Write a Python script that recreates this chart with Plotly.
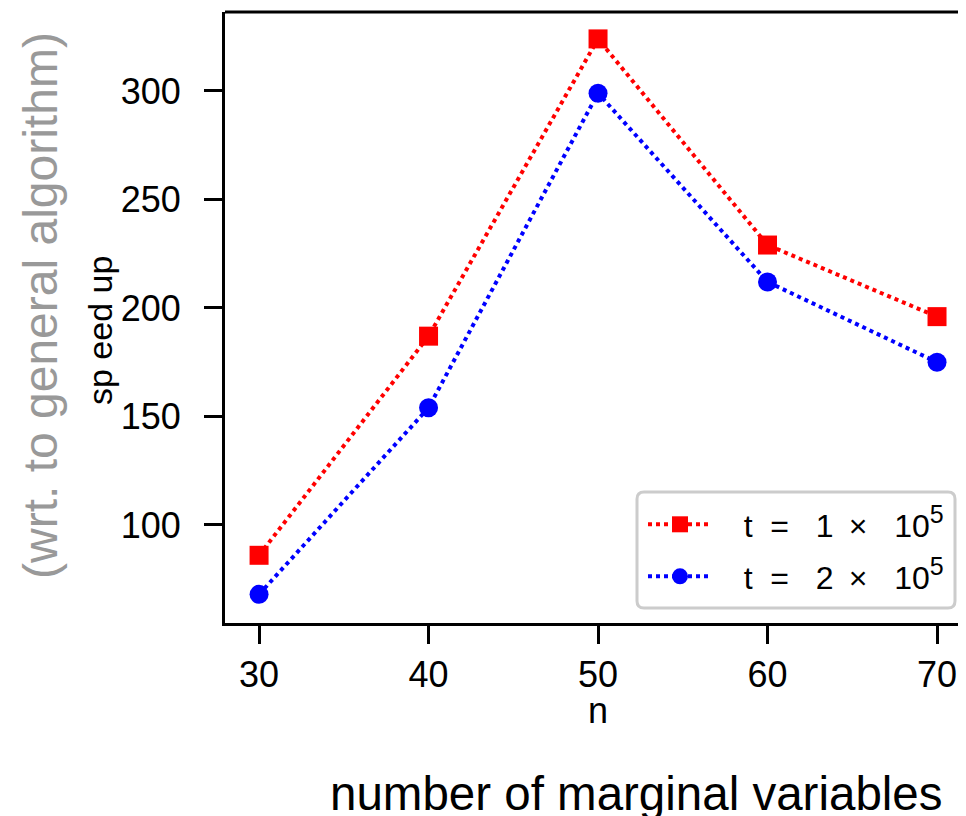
import plotly.graph_objects as go

n_values = [30, 40, 50, 60, 70]
speedup_t1 = [86, 187, 324, 229, 196]
speedup_t2 = [68, 154, 299, 212, 175]
NB = "\u00a0"
TH = "\u2009"
SUP = "<sup><span style='font-size:25px'>5</span></sup>"
series_names = [
    f"{NB*3}t{NB*2}={NB*3}1{NB}{TH}\u00d7{NB*3}10{SUP}",
    f"{NB*3}t{NB*2}={NB*3}2{NB}{TH}\u00d7{NB*3}10{SUP}",
]
x_ticks = [30, 40, 50, 60, 70]
y_ticks = [100, 150, 200, 250, 300]

FONT = "Liberation Sans, Arial, sans-serif"

# page body offsets the figure by 8px; figure area sized to fit
W, H = 958, 808
ML, MT, MB = 217, 4, 193
PW, PH = W - ML, H - MT - MB


def px_x(p):  # screenshot x -> paper
    return (p - 8 - ML) / PW


def px_y(p):  # screenshot y -> paper
    return (H - MB - (p - 8)) / PH


fig = go.Figure()
fig.add_trace(go.Scatter(
    x=n_values, y=speedup_t1, name=series_names[0], mode="lines+markers",
    line=dict(color="#ff0000", width=4, dash="dot"),
    marker=dict(symbol="square", size=19, color="#ff0000"),
    legend="legend",
))
fig.add_trace(go.Scatter(
    x=n_values, y=speedup_t2, name=series_names[1], mode="lines+markers",
    line=dict(color="#0000ff", width=4, dash="dot"),
    marker=dict(symbol="circle", size=19, color="#0000ff"),
    legend="legend2",
))

# rounded legend frame (pixel-sized, anchored at plot bottom-right)
bx0, bx1 = 637 - 8 - (ML + PW), 955 - 8 - (ML + PW)
by0, by1 = (H - MB) - (608 - 8), (H - MB) - (492 - 8)
r = 7
frame_path = (f"M{bx0+r},{by0} L{bx1-r},{by0} Q{bx1},{by0} {bx1},{by0+r} "
              f"L{bx1},{by1-r} Q{bx1},{by1} {bx1-r},{by1} L{bx0+r},{by1} "
              f"Q{bx0},{by1} {bx0},{by1-r} L{bx0},{by0+r} Q{bx0},{by0} {bx0+r},{by0} Z")

leg_common = dict(xanchor="left", yanchor="top", bgcolor="rgba(0,0,0,0)", borderwidth=0,
                  font=dict(size=32, family=FONT), itemwidth=64)

fig.update_layout(
    width=W, height=H,
    margin=dict(l=ML, r=0, t=MT, b=MB),
    paper_bgcolor="white", plot_bgcolor="white",
    font=dict(family=FONT, color="black"),
    showlegend=True,
    legend=dict(x=px_x(643), y=px_y(497), **leg_common),
    legend2=dict(x=px_x(643), y=px_y(549), **leg_common),
    xaxis=dict(
        range=[27.99, 71.71], tickvals=x_ticks, ticks="outside", ticklen=18,
        tickwidth=3, tickcolor="black", showline=True, linewidth=3, linecolor="black",
        showgrid=False, zeroline=False, tickfont=dict(size=36, family=FONT),
        ticklabelstandoff=0,
    ),
    yaxis=dict(
        range=[54.8, 336.4], tickvals=y_ticks, ticks="outside", ticklen=18,
        tickwidth=3, tickcolor="black", showline=True, linewidth=3, linecolor="black",
        showgrid=False, zeroline=False, tickfont=dict(size=36, family=FONT),
        ticklabelstandoff=16,
    ),
    shapes=[
        dict(type="line", xref="paper", yref="paper", x0=0, x1=1, y0=1, y1=1,
             line=dict(color="black", width=3)),
        dict(type="path", xref="paper", yref="paper", xsizemode="pixel", ysizemode="pixel",
             xanchor=1, yanchor=0, path=frame_path, fillcolor="white",
             line=dict(color="#cccccc", width=3), layer="above"),
    ],
    annotations=[
        dict(text="n", xref="x", yref="paper", x=50, y=px_y(710), yanchor="middle",
             showarrow=False, font=dict(size=36, family=FONT)),
        dict(text="number of marginal variables", xref="paper", yref="paper",
             x=px_x(636), y=px_y(793), yanchor="middle", xanchor="center",
             showarrow=False, font=dict(size=47.5, family=FONT)),
        dict(text="sp eed up", xref="paper", yref="paper", x=px_x(100),
             y=px_y(330), xanchor="center", yanchor="middle", textangle=-90,
             showarrow=False, font=dict(size=34, family=FONT)),
        dict(text="(wrt. to general algorithm)", xref="paper", yref="paper",
             x=px_x(40), y=px_y(306), xanchor="center", yanchor="middle",
             textangle=-90, showarrow=False, font=dict(size=48, family=FONT, color="#999999")),
    ],
)

fig.write_html("out.html")
